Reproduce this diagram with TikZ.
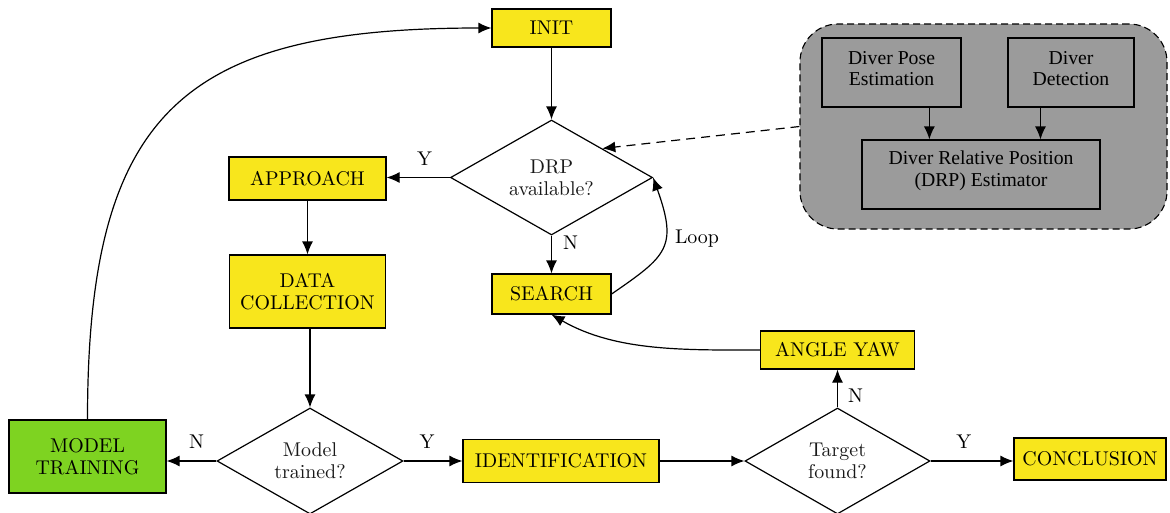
\documentclass[tikz,border=0pt]{standalone}
\usepackage{fontspec}
\newfontfamily\timesf{Liberation Serif}
\newfontfamily\lmten{lmroman10-regular.otf}
\usetikzlibrary{arrows.meta,shapes.geometric,calc}
\definecolor{boxyellow}{RGB}{248,230,28}
\definecolor{boxgreen}{RGB}{126,211,33}
\definecolor{boxgrey}{RGB}{155,155,155}
\tikzset{
  mainfont/.style={font=\lmten\fontsize{19.9}{21.7}\selectfont},
  ybox/.style={draw=black, line width=1.2pt, fill=boxyellow, inner sep=0pt, align=center, mainfont},
  gbox/.style={draw=black, line width=1.2pt, fill=boxgreen, inner sep=0pt, align=center, mainfont},
  decision/.style={diamond, aspect=1.6, draw=black, line width=1.2pt, inner sep=0pt, align=center, mainfont, text=black!90},
  greyarea/.style={draw=black, line width=1.1pt, fill=boxgrey, dash pattern=on 7pt off 4pt, rounded corners=38pt},
  tbox/.style={draw=black, line width=1.2pt, fill=boxgrey, inner sep=0pt, align=center, font=\timesf\fontsize{19.7}{21.7}\selectfont},
  arr/.style={line width=1.2pt, -{Latex[length=13pt,width=11pt]}},
  lbl/.style={mainfont, inner sep=2pt}
}
\begin{document}
\begin{tikzpicture}[x=1pt,y=1pt]
\useasboundingbox (0,0) rectangle (1170,-512);

% grey area
\node[greyarea, minimum width=367pt, minimum height=205pt] (grey) at (983.5,-126.5) {};
\node[tbox, minimum width=139pt, minimum height=69pt, text depth=8pt] (pose) at (891.5,-72.5) {Diver Pose\\Estimation};
\node[tbox, minimum width=126pt, minimum height=69pt, text depth=8pt] (det) at (1071,-72.5) {Diver\\Detection};
\node[tbox, minimum width=238pt, minimum height=69pt, text depth=11pt] (est) at (981,-174.5) {Diver Relative Position\\(DRP) Estimator};
\coordinate (p1) at ($(pose.south west)!0.77!(pose.south east)$);
\coordinate (p2) at ($(det.south west)!0.26!(det.south east)$);
\draw[arr] (p1) -- (p1 |- est.north);
\draw[arr] (p2) -- (p2 |- est.north);

% main flow
\node[ybox, minimum width=119pt, minimum height=38pt] (init) at (551.5,-28) {INIT};
\node[decision, minimum width=202pt, minimum height=115pt] (drp) at (551.5,-177.5) {DRP\\available?};
\node[ybox, minimum width=157pt, minimum height=43pt] (approach) at (307.5,-178.5) {APPROACH};
\node[ybox, minimum width=156pt, minimum height=73pt] (data) at (307.5,-291.5) {DATA\\COLLECTION};
\node[ybox, minimum width=119pt, minimum height=40pt] (search) at (551.5,-294) {SEARCH};
\node[gbox, minimum width=157pt, minimum height=73pt] (model) at (87.5,-456.5) {MODEL\\TRAINING};
\node[decision, minimum width=186pt, minimum height=106pt] (trained) at (310,-461) {Model\\trained?};
\node[ybox, minimum width=196pt, minimum height=43pt] (ident) at (561,-461) {IDENTIFICATION};
\node[decision, minimum width=185pt, minimum height=106pt] (target) at (837.5,-461) {Target\\found?};
\node[ybox, minimum width=152pt, minimum height=42pt] (concl) at (1090,-459) {CONCLUSION};
\node[ybox, minimum width=154pt, minimum height=38pt] (angle) at (837.5,-350) {ANGLE YAW};
\node[lbl] (looplbl) at (697,-239) {Loop};

\draw[arr] (init.south) -- (drp.north);
\draw[arr] (drp.west) -- node[lbl, above=9pt, pos=0.4] (ylbl1) {Y} (drp.west -| approach.east);
\draw[arr] (drp.south) -- node[lbl, right=9pt, pos=0.2] (nlbl1) {N} (search.north);
\draw[arr] (search.east) .. controls +(55,38) and +(25,-70) .. (drp.east);
\draw[arr] (approach.south) -- (data.north);
\draw[arr] (trained.north |- data.south) -- (trained.north);
\draw[arr] (trained.west) -- node[lbl, above=10pt, pos=0.4] (nlbl2) {N} (trained.west -| model.east);
\draw[arr] (trained.east) -- node[lbl, above=10pt, pos=0.4] (ylbl2) {Y} (ident.west);
\draw[arr] (ident.east) -- (target.west);
\draw[arr] (target.east) -- node[lbl, above=10pt, pos=0.4] (ylbl3) {Y} (target.east -| concl.west);
\draw[arr] (target.north) -- node[lbl, right=8pt, pos=0.3] (nlbl3) {N} (angle.south);
\draw[arr] (angle.west) to[out=180,in=-30,looseness=0.9] (search.south);
\draw[arr] (model.north) to[out=90,in=180,looseness=1.4] (init.west);
\draw[arr, dash pattern=on 9pt off 6pt] (grey.west) -- (drp.north east);
\end{tikzpicture}
\end{document}
